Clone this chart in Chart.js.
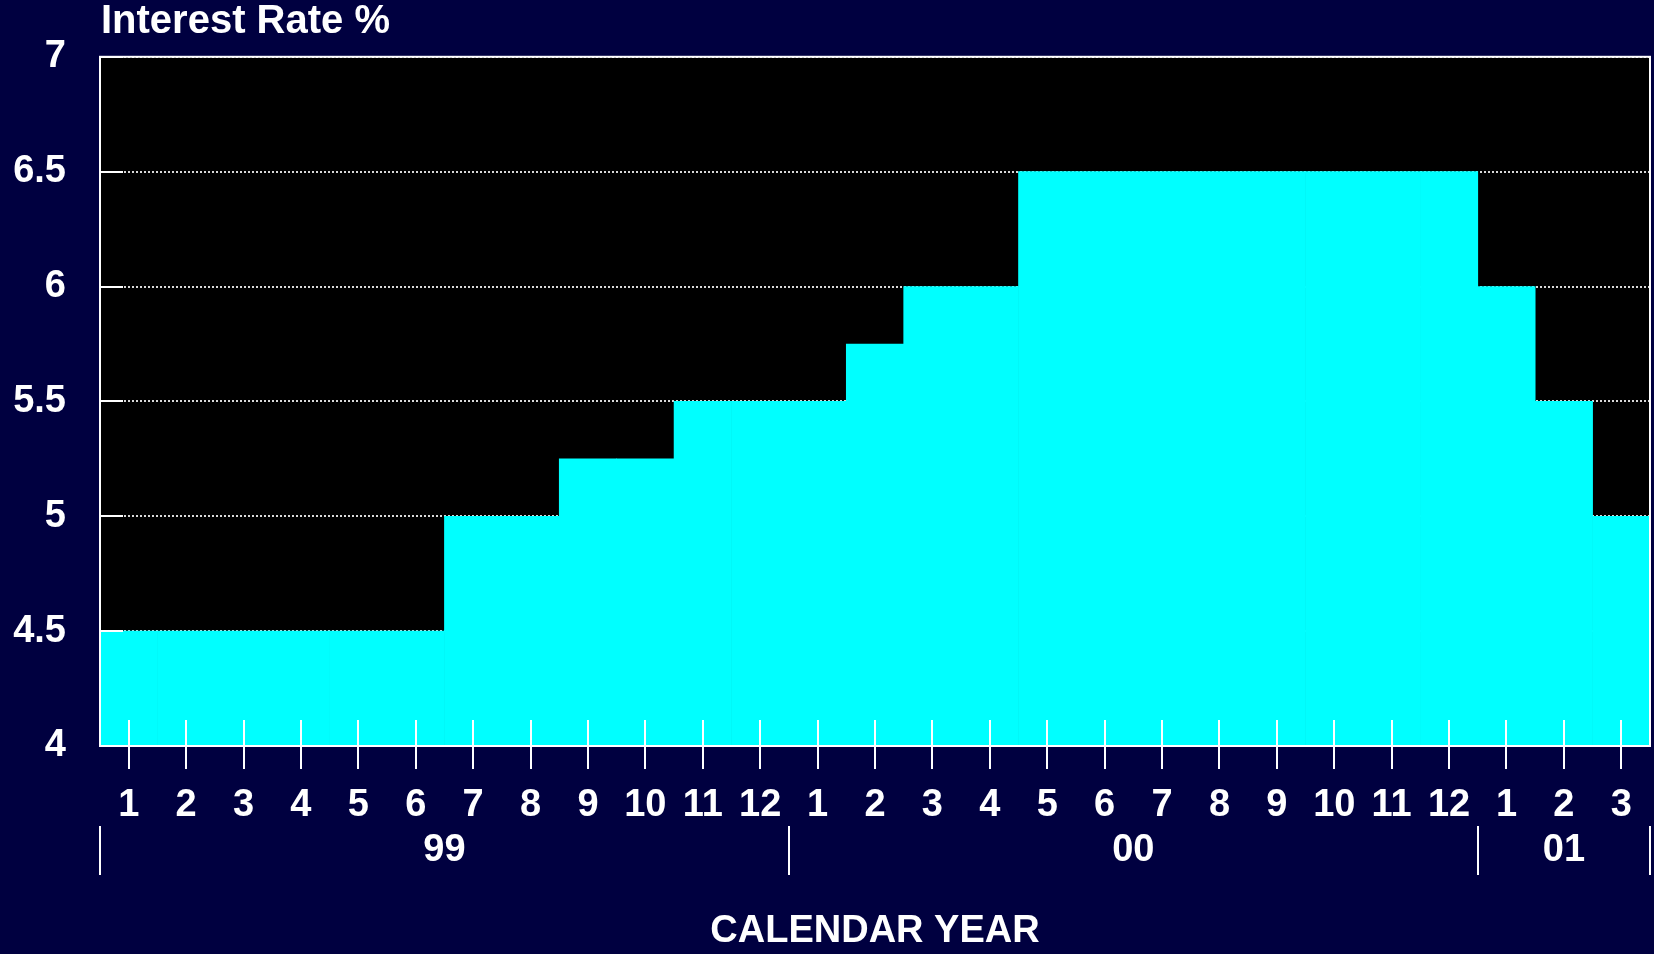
<!DOCTYPE html>
<html>
<head>
<meta charset="utf-8">
<title>Interest Rate %</title>
<script src="https://cdn.jsdelivr.net/npm/chart.js@4.4.0/dist/chart.umd.min.js"></script>
<style>
  body { margin: 0; background: #000040; }
  canvas { display: block; }
</style>
</head>
<body>
<canvas id="chartCanvas" width="1654" height="954"></canvas>
<script>
// === Data ===
const months = ["1", "2", "3", "4", "5", "6", "7", "8", "9", "10", "11", "12",
                "1", "2", "3", "4", "5", "6", "7", "8", "9", "10", "11", "12",
                "1", "2", "3"];
const rates = [4.5, 4.5, 4.5, 4.5, 4.5, 4.5, 5, 5, 5.25, 5.25, 5.5, 5.5,
               5.5, 5.75, 6, 6, 6.5, 6.5, 6.5, 6.5, 6.5, 6.5, 6.5, 6.5,
               6, 5.5, 5];
const years = ["99", "00", "01"];
const monthsPerYear = [12, 12, 3];
const yTicks = [4, 4.5, 5, 5.5, 6, 6.5, 7];

const FONT = "'Liberation Sans', Arial, sans-serif";
const chartCanvas = document.getElementById("chartCanvas");

function line(ctx, x1, y1, x2, y2) {
  ctx.beginPath();
  ctx.moveTo(x1, y1);
  ctx.lineTo(x2, y2);
  ctx.stroke();
}

// === Plot background, frame, ticks, year row and titles ===
const decor = {
  id: "decor",
  beforeDraw(chart) {
    const { ctx, chartArea: a } = chart;
    ctx.save();
    ctx.fillStyle = "#000000";
    ctx.fillRect(a.left, a.top, a.right - a.left, a.bottom - a.top);
    ctx.restore();
  },
  afterDatasetsDraw(chart) {
    const { ctx, chartArea: a, scales: { x, y } } = chart;
    ctx.save();
    ctx.strokeStyle = "#ffffff";
    ctx.lineWidth = 2;
    ctx.strokeRect(a.left, a.top, a.right - a.left, a.bottom - a.top);

    // short inward ticks on the y axis
    yTicks.forEach(v => {
      const py = Math.round(y.getPixelForValue(v));
      line(ctx, a.left, py, a.left + 23, py);
    });

    // month ticks crossing the bottom edge
    months.forEach((m, i) => {
      const px = Math.round(x.getPixelForValue(i));
      line(ctx, px, a.bottom - 26, px, a.bottom + 23);
    });

    // year separators and labels
    ctx.fillStyle = "#ffffff";
    ctx.font = "bold 38px " + FONT;
    ctx.textAlign = "center";
    ctx.textBaseline = "middle";
    let start = 0;
    years.forEach((yr, k) => {
      const end = start + monthsPerYear[k] - 1;
      const left = start === 0 ? a.left : (x.getPixelForValue(start - 1) + x.getPixelForValue(start)) / 2;
      const right = end === months.length - 1 ? a.right : (x.getPixelForValue(end) + x.getPixelForValue(end + 1)) / 2;
      line(ctx, Math.round(left), a.bottom + 80, Math.round(left), a.bottom + 129);
      if (k === years.length - 1) line(ctx, Math.round(right), a.bottom + 80, Math.round(right), a.bottom + 129);
      ctx.fillText(yr, (left + right) / 2, a.bottom + 105);
      start = end + 1;
    });

    // axis title and chart title
    ctx.fillText("CALENDAR YEAR", (a.left + a.right) / 2, a.bottom + 186);
    ctx.font = "bold 40px " + FONT;
    ctx.textAlign = "left";
    ctx.textBaseline = "alphabetic";
    ctx.fillText("Interest Rate %", a.left + 1, 33);
    ctx.restore();
  }
};

const chartInstance = new Chart(chartCanvas, {
  type: "bar",
  data: {
    labels: months,
    datasets: [{
      data: rates,
      backgroundColor: "#00ffff",
      borderWidth: 0,
      barPercentage: 1,
      categoryPercentage: 1
    }]
  },
  options: {
    responsive: false,
    animation: false,
    layout: { padding: { top: 55, right: 4, left: 0, bottom: 0 } },
    plugins: {
      legend: { display: false },
      tooltip: { enabled: false }
    },
    scales: {
      x: {
        afterFit: s => {
          s.height = 208;
          s.paddingLeft = 0;
          s.paddingRight = 0;
        },
        grid: { display: false },
        border: { display: false },
        ticks: {
          color: "#ffffff",
          font: { family: FONT, size: 38, weight: "bold" },
          padding: 29,
          autoSkip: false,
          maxRotation: 0
        }
      },
      y: {
        min: 4,
        max: 7,
        afterFit: s => { s.width = 100; },
        afterBuildTicks: s => { s.ticks = yTicks.map(v => ({ value: v })); },
        grid: { color: "#d8d8d8", lineWidth: 2, drawTicks: false },
        border: { display: false, dash: [2, 2] },
        ticks: {
          color: "#ffffff",
          font: { family: FONT, size: 38, weight: "bold" },
          padding: 34,
          callback: v => String(v)
        }
      }
    }
  },
  plugins: [decor]
});
</script>
</body>
</html>
